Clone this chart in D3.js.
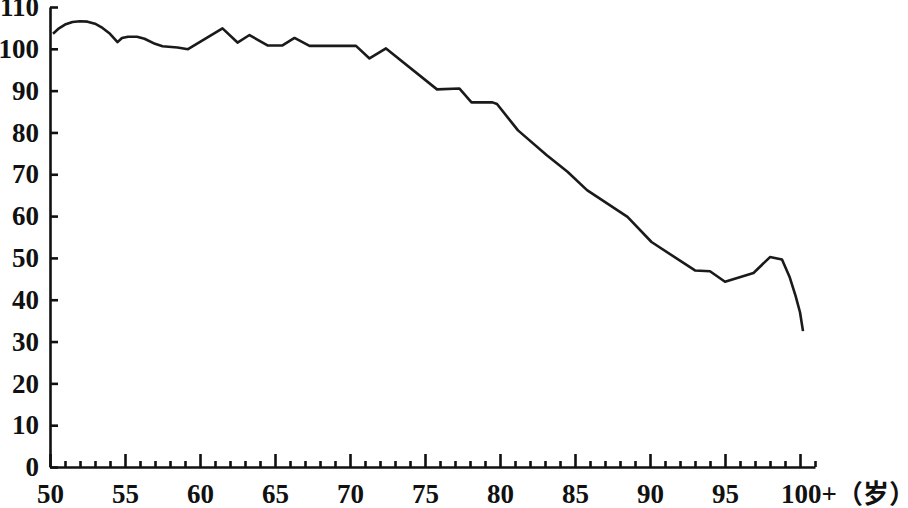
<!DOCTYPE html>
<html>
<head>
<meta charset="utf-8">
<script src="https://cdn.jsdelivr.net/npm/d3@7"></script>
<style>
  body { margin: 0; background: #fff; }
</style>
</head>
<body>
<svg id="chart" width="908" height="508"></svg>
<script>
// ages (x) and values (y)
var ages = [50.2, 50.6, 51.0, 51.5, 52.0, 52.5, 53.0, 53.5, 54.0, 54.5,
            54.8, 55.2, 55.8, 56.3, 57.0, 57.5, 58.5, 59.2, 61.5, 62.5,
            63.3, 64.5, 65.5, 66.3, 67.3, 70.4, 71.3, 72.4, 75.8, 77.3,
            78.1, 79.5, 79.8, 81.2, 83.1, 84.5, 85.8, 88.5, 90.1, 93.0,
            94.0, 95.0, 96.9, 98.0, 98.8, 99.3, 99.7, 100.0, 100.2];
var values = [103.6, 104.9, 105.8, 106.4, 106.6, 106.5, 106.0, 105.0, 103.6, 101.6,
              102.6, 102.9, 102.9, 102.4, 101.2, 100.6, 100.3, 99.9, 104.9, 101.5,
              103.3, 100.8, 100.8, 102.6, 100.7, 100.7, 97.7, 100.1, 90.3, 90.5,
              87.2, 87.2, 86.8, 80.5, 74.6, 70.6, 66.2, 59.8, 53.8, 47.0,
              46.8, 44.3, 46.4, 50.2, 49.6, 45.5, 41.0, 37.0, 32.5];

var yTicks = [0, 10, 20, 30, 40, 50, 60, 70, 80, 90, 100, 110];
var xTicks = d3.range(50, 102);
var xLabels = [50, 55, 60, 65, 70, 75, 80, 85, 90, 95];
var lastLabel = "100+";
var unitLabel = "（岁）";

var FONT = "'Liberation Serif', 'DejaVu Serif', serif";
var CJK = "'Noto Sans CJK SC', sans-serif";

var svg = d3.select("#chart");

var x = d3.scaleLinear().domain([50, 101]).range([50, 815]);
var y = d3.scaleLinear().domain([0, 110]).range([467, 7]);

var data = ages.map(function(a, i){ return {age: a, v: values[i]}; });

// y axis, ticks pointing inward
var gy = svg.append("g")
  .attr("transform", "translate(" + x(50) + ",0)")
  .call(d3.axisLeft(y).tickValues(yTicks).tickSizeInner(-8).tickSizeOuter(0).tickPadding(11));

// x axis
var gx = svg.append("g")
  .attr("transform", "translate(0," + y(0) + ")")
  .call(d3.axisBottom(x).tickValues(xTicks).tickSizeInner(-6).tickSizeOuter(0)
    .tickFormat(function(d){ return xLabels.indexOf(d) >= 0 ? d : ""; }));

// major ticks every 5 years
gx.selectAll(".tick line")
  .attr("y2", function(d){ return d % 5 === 0 ? -13 : -6; });

gx.selectAll(".tick text").attr("y", 36).attr("dy", 0);

svg.selectAll("g").attr("font-family", null).attr("font-size", null);

svg.selectAll(".domain, .tick line")
  .attr("stroke", "#111")
  .attr("stroke-width", 2.6);

svg.selectAll(".tick text")
  .attr("fill", "#111")
  .style("font-family", FONT)
  .style("font-weight", "bold")
  .style("font-size", "27px");

// 100+ label with unit
var last = svg.append("text")
  .attr("x", x(100) - 19)
  .attr("y", y(0) + 36)
  .attr("fill", "#111")
  .style("font-family", FONT)
  .style("font-weight", "bold")
  .style("font-size", "27px");
last.append("tspan").text(lastLabel);
last.append("tspan").style("font-family", CJK).style("font-size", "26px").text(unitLabel);

// the curve
var line = d3.line()
  .x(function(d){ return x(d.age); })
  .y(function(d){ return y(d.v); })
  .curve(d3.curveLinear);

svg.append("path")
  .datum(data)
  .attr("d", line)
  .attr("fill", "none")
  .attr("stroke", "#1a1a1a")
  .attr("stroke-width", 2.6)
  .attr("stroke-linejoin", "round");
</script>
</body>
</html>
